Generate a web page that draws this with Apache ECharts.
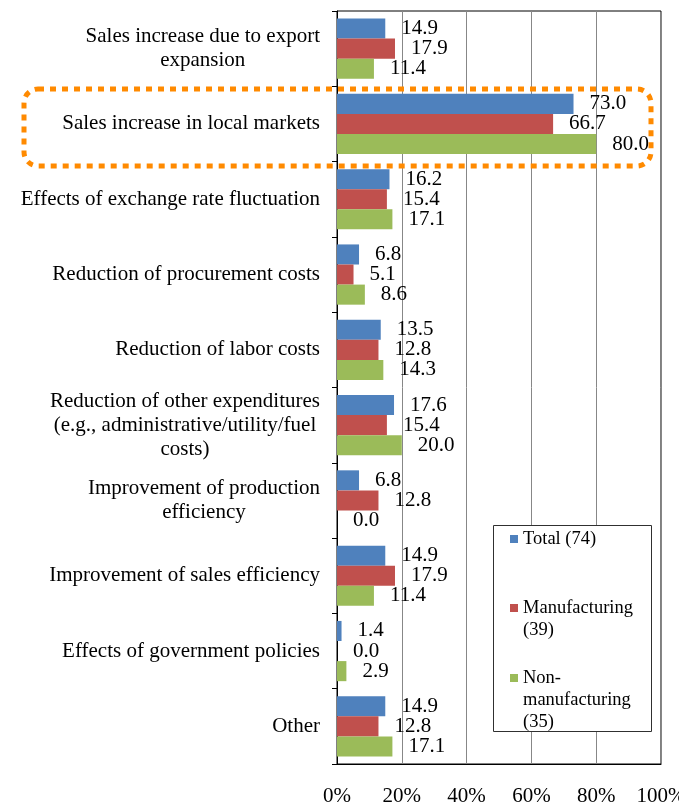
<!DOCTYPE html>
<html>
<head>
<meta charset="utf-8">
<script src="https://cdn.jsdelivr.net/npm/echarts@6/dist/echarts.min.js"></script>
<style>
  html, body { margin: 0; padding: 0; background: #fff; }
  #chart { width: 679px; height: 803px; }
</style>
</head>
<body>
<div id="chart"></div>
<script>
// categories, top to bottom
const categories = [
  'Sales increase due to export\nexpansion',
  'Sales increase in local markets',
  'Effects of exchange rate fluctuation',
  'Reduction of procurement costs',
  'Reduction of labor costs',
  'Reduction of other expenditures\n(e.g., administrative/utility/fuel\ncosts)',
  'Improvement of production\nefficiency',
  'Improvement of sales efficiency',
  'Effects of government policies',
  'Other'
]
const totalValues = [14.9, 73.0, 16.2, 6.8, 13.5, 17.6, 6.8, 14.9, 1.4, 14.9]
const manufacturingValues = [17.9, 66.7, 15.4, 5.1, 12.8, 15.4, 12.8, 17.9, 0.0, 12.8]
const nonManufacturingValues = [11.4, 80.0, 17.1, 8.6, 14.3, 20.0, 0.0, 11.4, 2.9, 17.1]
const seriesNames = ['Total (74)', 'Manufacturing (39)', 'Non-manufacturing (35)']
const legendLabels = ['Total (74)', '\nManufacturing\n(39)', '\n\nNon-\nmanufacturing\n(35)']
const xTicks = [0, 20, 40, 60, 80, 100]

const font = '"Liberation Serif", "Times New Roman", serif'
const colors = ['#4F81BD', '#C0504D', '#9BBB59']

const chart = echarts.init(document.getElementById('chart'))

function barSeries(name, values, color) {
  return {
    name: name,
    type: 'bar',
    data: values,
    barGap: '0%',
    barCategoryGap: '20%',
    itemStyle: { color: color },
    label: {
      show: true,
      position: 'right',
      distance: 16,
      color: '#000',
      fontFamily: font,
      fontSize: 21,
      formatter: p => p.value.toFixed(1)
    }
  }
}

const legendTops = [528, 575, 623]

chart.setOption({
  animation: false,
  grid: {
    left: 337,
    right: 18,
    top: 11,
    bottom: 39,
    outerBoundsMode: 'none',
    show: true,
    borderColor: '#000',
    borderWidth: 1
  },
  xAxis: {
    type: 'value',
    min: xTicks[0],
    max: xTicks[xTicks.length - 1],
    interval: 20,
    axisLine: { show: true, lineStyle: { color: '#000' } },
    axisTick: { show: false },
    splitLine: { lineStyle: { color: '#878787', width: 1 } },
    axisLabel: {
      formatter: '{value}%',
      color: '#000',
      fontFamily: font,
      fontSize: 21,
      margin: 22,
      showMaxLabel: true
    }
  },
  yAxis: {
    type: 'category',
    inverse: true,
    data: categories,
    axisLine: { show: true, lineStyle: { color: '#000' } },
    axisTick: { show: true, length: 5, lineStyle: { color: '#000' } },
    axisLabel: {
      margin: 17,
      color: '#000',
      fontFamily: font,
      fontSize: 21,
      lineHeight: 24,
      align: 'right',
      formatter: v => v.split('\n').map(l => '{c|' + l + '}').join('\n'),
      rich: {
        c: { align: 'center', fontFamily: font, fontSize: 21, lineHeight: 24, color: '#000' }
      }
    }
  },
  legend: seriesNames.map((n, i) => ({
    data: [n],
    orient: 'vertical',
    left: 510,
    top: legendTops[i],
    padding: 0,
    itemWidth: 8,
    itemHeight: 8,
    itemGap: 6,
    icon: 'rect',
    selectedMode: false,
    z: 60,
    formatter: () => legendLabels[i],
    textStyle: { fontFamily: font, fontSize: 18.5, lineHeight: 22, color: '#000' }
  })),
  graphic: [
    {
      type: 'rect',
      z: 50,
      shape: { x: 493.5, y: 525.5, width: 158, height: 206 },
      style: { fill: '#fff', stroke: '#303030', lineWidth: 1 }
    },
    {
      type: 'rect',
      z: 50,
      shape: { x: 24, y: 89, width: 627, height: 77, r: 14 },
      style: { fill: null, stroke: '#FF8A00', lineWidth: 5, lineDash: [6, 6] }
    }
  ],
  series: [
    barSeries(seriesNames[0], totalValues, colors[0]),
    barSeries(seriesNames[1], manufacturingValues, colors[1]),
    barSeries(seriesNames[2], nonManufacturingValues, colors[2])
  ]
})
</script>
</body>
</html>
